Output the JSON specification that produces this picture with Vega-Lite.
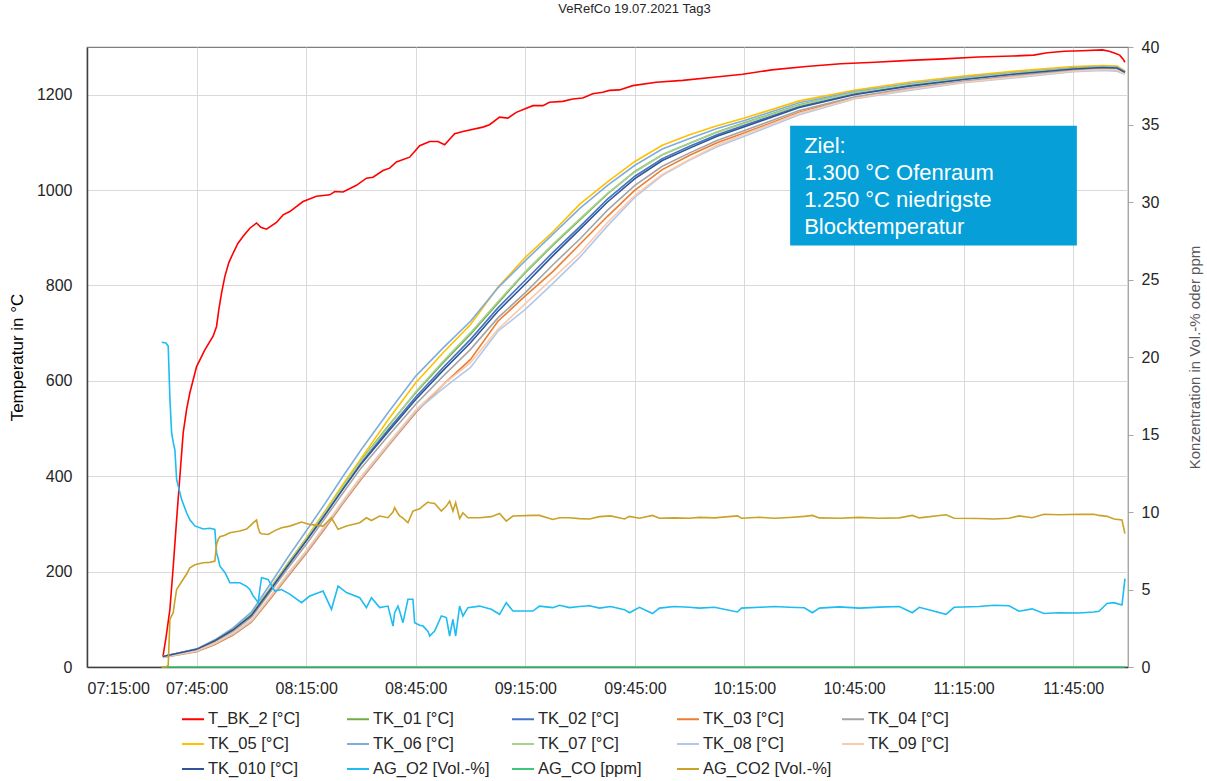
{
"$schema":"https://vega.github.io/schema/vega-lite/v6.json",
"width":1041,"height":620,
"autosize":{"type":"none"},
"padding":{"left":87,"top":47,"right":79,"bottom":114},
"background":"white",
"title":{"text":"VeRefCo 19.07.2021 Tag3","fontSize":13,"font":"Liberation Sans","fontWeight":"normal","color":"#262626","anchor":"middle","frame":"group","offset":23,"dx":27},
"config":{"font":"Liberation Sans","view":{"stroke":"#7F7F7F","strokeWidth":1.2},"axis":{"labelFont":"Liberation Sans","titleFont":"Liberation Sans","labelColor":"#262626","labelFontSize":16}},
"layer":[
{"layer":[
{"data":{"values":[
{"t":"07:35:47","T_BK_2":22},{"t":"07:36:36","T_BK_2":60},{"t":"07:37:42","T_BK_2":121},{"t":"07:38:39","T_BK_2":215},{"t":"07:39:32","T_BK_2":309},{"t":"07:40:26","T_BK_2":400},{"t":"07:41:20","T_BK_2":491},{"t":"07:42:16","T_BK_2":540},{"t":"07:43:10","T_BK_2":575},{"t":"07:45:00","T_BK_2":630},{"t":"07:47:16","T_BK_2":665},{"t":"07:49:33","T_BK_2":694},{"t":"07:50:28","T_BK_2":714},{"t":"07:51:06","T_BK_2":750},{"t":"07:51:50","T_BK_2":784},{"t":"07:52:45","T_BK_2":819},{"t":"07:53:50","T_BK_2":848},{"t":"07:55:01","T_BK_2":868},{"t":"07:56:18","T_BK_2":888},{"t":"07:57:45","T_BK_2":903},{"t":"07:59:35","T_BK_2":920},{"t":"08:01:25","T_BK_2":931},{"t":"08:02:35","T_BK_2":922},{"t":"08:04:09","T_BK_2":918},{"t":"08:06:53","T_BK_2":932},{"t":"08:08:41","T_BK_2":948},{"t":"08:10:31","T_BK_2":955},{"t":"08:14:09","T_BK_2":976},{"t":"08:17:49","T_BK_2":987},{"t":"08:21:28","T_BK_2":990},{"t":"08:22:50","T_BK_2":997},{"t":"08:25:06","T_BK_2":996},{"t":"08:28:46","T_BK_2":1010},{"t":"08:31:30","T_BK_2":1025},{"t":"08:33:18","T_BK_2":1027},{"t":"08:36:02","T_BK_2":1041},{"t":"08:37:52","T_BK_2":1046},{"t":"08:39:42","T_BK_2":1059},{"t":"08:43:20","T_BK_2":1069},{"t":"08:46:05","T_BK_2":1093},{"t":"08:48:49","T_BK_2":1102},{"t":"08:51:05","T_BK_2":1102},{"t":"08:52:55","T_BK_2":1095},{"t":"08:55:39","T_BK_2":1118},{"t":"08:57:55","T_BK_2":1123},{"t":"09:03:23","T_BK_2":1132},{"t":"09:05:13","T_BK_2":1137},{"t":"09:07:57","T_BK_2":1153},{"t":"09:10:14","T_BK_2":1151},{"t":"09:12:31","T_BK_2":1163},{"t":"09:17:04","T_BK_2":1177},{"t":"09:19:48","T_BK_2":1177},{"t":"09:21:38","T_BK_2":1184},{"t":"09:25:16","T_BK_2":1186},{"t":"09:28:00","T_BK_2":1191},{"t":"09:30:44","T_BK_2":1193},{"t":"09:33:28","T_BK_2":1202},{"t":"09:36:13","T_BK_2":1205},{"t":"09:38:02","T_BK_2":1209},{"t":"09:40:47","T_BK_2":1210},{"t":"09:44:25","T_BK_2":1219},{"t":"09:50:49","T_BK_2":1226},{"t":"09:58:05","T_BK_2":1230},{"t":"10:07:13","T_BK_2":1237},{"t":"10:14:30","T_BK_2":1243},{"t":"10:22:27","T_BK_2":1252},{"t":"10:31:54","T_BK_2":1259},{"t":"10:41:20","T_BK_2":1265},{"t":"10:50:46","T_BK_2":1268},{"t":"11:00:10","T_BK_2":1272},{"t":"11:09:37","T_BK_2":1275},{"t":"11:19:03","T_BK_2":1279},{"t":"11:28:29","T_BK_2":1281},{"t":"11:34:09","T_BK_2":1283},{"t":"11:37:55","T_BK_2":1288},{"t":"11:42:37","T_BK_2":1291},{"t":"11:47:21","T_BK_2":1292},{"t":"11:52:59","T_BK_2":1294},{"t":"11:54:52","T_BK_2":1291},{"t":"11:56:26","T_BK_2":1287},{"t":"11:57:43","T_BK_2":1283},{"t":"11:58:37","T_BK_2":1275},{"t":"11:59:10","T_BK_2":1268}
],"format":{"parse":{"t":"utc:'%H:%M:%S'"}}},
"transform":[{"fold":["T_BK_2"],"as":["s","v"]}],
"mark":{"type":"line","strokeWidth":1.6},
"encoding":{
"x":{"field":"t","type":"temporal","scale":{"type":"utc","domain":[{"utc":true,"year":1900,"month":1,"date":1,"hours":7,"minutes":15},{"utc":true,"year":1900,"month":1,"date":1,"hours":12,"minutes":0}]},
"axis":{"title":null,"values":[{"utc":true,"year":1900,"month":1,"date":1,"hours":7,"minutes":15},{"utc":true,"year":1900,"month":1,"date":1,"hours":7,"minutes":45},{"utc":true,"year":1900,"month":1,"date":1,"hours":8,"minutes":15},{"utc":true,"year":1900,"month":1,"date":1,"hours":8,"minutes":45},{"utc":true,"year":1900,"month":1,"date":1,"hours":9,"minutes":15},{"utc":true,"year":1900,"month":1,"date":1,"hours":9,"minutes":45},{"utc":true,"year":1900,"month":1,"date":1,"hours":10,"minutes":15},{"utc":true,"year":1900,"month":1,"date":1,"hours":10,"minutes":45},{"utc":true,"year":1900,"month":1,"date":1,"hours":11,"minutes":15},{"utc":true,"year":1900,"month":1,"date":1,"hours":11,"minutes":45}],
"labelExpr":"utcFormat(datum.value, '%H:%M:%S')","labelFlush":true,"labelOverlap":false,"grid":true,"gridColor":"#D9D9D9","ticks":false,"tickSize":0,"labelPadding":13,"domainColor":"#404040","domainWidth":1.5}},
"y":{"field":"v","type":"quantitative","scale":{"domain":[0,1300],"nice":false},
"axis":{"title":"Temperatur in °C","values":[0,200,400,600,800,1000,1200],"format":"d","grid":true,"gridColor":"#D9D9D9","ticks":false,"tickSize":0,"labelPadding":15,"labelFlush":false,"domainColor":"#404040","domainWidth":1.5,"titleFontSize":17,"titleFontWeight":"normal","titleColor":"#000000","titlePadding":10}},
"color":{"field":"s","type":"nominal","scale":{"domain":["T_BK_2","TK_01","TK_02","TK_03","TK_04","TK_05","TK_06","TK_07","TK_08","TK_09","TK_010","AG_O2","AG_CO","AG_CO2"],"range":["#FF0000","#70AD47","#4472C4","#ED7D31","#A5A5A5","#FFC000","#7EADDD","#A9D18E","#B4C7E7","#F8CBAD","#2F5597","#1EBCF2","#3CC878","#C9A227"]},
"legend":{"orient":"none","direction":"horizontal","legendX":94,"legendY":660,"columns":5,"gridAlign":"all","title":null,"symbolType":"stroke","symbolSize":484,"symbolStrokeWidth":2,"labelFont":"Liberation Sans","labelFontSize":16.5,"labelColor":"#262626","labelOffset":3,"rowPadding":4,"columnPadding":6,"padding":0,"labelLimit":0,
"labelExpr":"datum.label == 'AG_O2' ? 'AG_O2 [Vol.-%]' : datum.label == 'AG_CO' ? 'AG_CO [ppm]' : datum.label == 'AG_CO2' ? 'AG_CO2 [Vol.-%]' : datum.label + ' [°C]'"}}
}},
{"data":{"values":[
{"t":"07:35:47","TK_01":22,"TK_02":22,"TK_03":20,"TK_04":22,"TK_05":22,"TK_06":22,"TK_07":22,"TK_08":20,"TK_09":21,"TK_010":22},
{"t":"07:45:00","TK_01":37,"TK_02":37,"TK_03":32,"TK_04":36,"TK_05":36,"TK_06":38,"TK_07":37,"TK_08":33,"TK_09":34,"TK_010":37},
{"t":"07:50:00","TK_01":55,"TK_02":55,"TK_03":47,"TK_04":53,"TK_05":55,"TK_06":57,"TK_07":55,"TK_08":49,"TK_09":50,"TK_010":55},
{"t":"07:55:00","TK_01":79,"TK_02":78,"TK_03":67,"TK_04":75,"TK_05":78,"TK_06":82,"TK_07":78,"TK_08":69,"TK_09":71,"TK_010":78},
{"t":"08:00:00","TK_01":110,"TK_02":109,"TK_03":94,"TK_04":104,"TK_05":109,"TK_06":115,"TK_07":109,"TK_08":96,"TK_09":98,"TK_010":108},
{"t":"08:05:00","TK_01":163,"TK_02":161,"TK_03":141,"TK_04":155,"TK_05":162,"TK_06":172,"TK_07":162,"TK_08":144,"TK_09":146,"TK_010":160},
{"t":"08:10:00","TK_01":217,"TK_02":215,"TK_03":190,"TK_04":207,"TK_05":217,"TK_06":230,"TK_07":216,"TK_08":193,"TK_09":196,"TK_010":213},
{"t":"08:15:00","TK_01":269,"TK_02":266,"TK_03":238,"TK_04":257,"TK_05":270,"TK_06":285,"TK_07":268,"TK_08":241,"TK_09":244,"TK_010":264},
{"t":"08:20:00","TK_01":323,"TK_02":319,"TK_03":289,"TK_04":310,"TK_05":325,"TK_06":341,"TK_07":322,"TK_08":292,"TK_09":295,"TK_010":317},
{"t":"08:25:00","TK_01":379,"TK_02":375,"TK_03":342,"TK_04":364,"TK_05":382,"TK_06":399,"TK_07":378,"TK_08":345,"TK_09":348,"TK_010":372},
{"t":"08:30:00","TK_01":433,"TK_02":428,"TK_03":393,"TK_04":417,"TK_05":437,"TK_06":455,"TK_07":432,"TK_08":396,"TK_09":399,"TK_010":425},
{"t":"08:37:30","TK_01":506,"TK_02":498,"TK_03":464,"TK_04":485,"TK_05":519,"TK_06":534,"TK_07":504,"TK_08":466,"TK_09":469,"TK_010":494},
{"t":"08:45:00","TK_01":575,"TK_02":566,"TK_03":533,"TK_04":551,"TK_05":596,"TK_06":610,"TK_07":577,"TK_08":536,"TK_09":539,"TK_010":561},
{"t":"08:52:30","TK_01":638,"TK_02":628,"TK_03":592,"TK_04":610,"TK_05":659,"TK_06":669,"TK_07":641,"TK_08":584,"TK_09":592,"TK_010":622},
{"t":"09:00:00","TK_01":698,"TK_02":687,"TK_03":645,"TK_04":666,"TK_05":718,"TK_06":725,"TK_07":701,"TK_08":628,"TK_09":638,"TK_010":680},
{"t":"09:07:30","TK_01":763,"TK_02":753,"TK_03":725,"TK_04":732,"TK_05":796,"TK_06":795,"TK_07":766,"TK_08":704,"TK_09":708,"TK_010":746},
{"t":"09:15:00","TK_01":827,"TK_02":811,"TK_03":778,"TK_04":785,"TK_05":859,"TK_06":852,"TK_07":829,"TK_08":750,"TK_09":762,"TK_010":803},
{"t":"09:22:30","TK_01":884,"TK_02":869,"TK_03":829,"TK_04":843,"TK_05":912,"TK_06":907,"TK_07":886,"TK_08":804,"TK_09":815,"TK_010":862},
{"t":"09:30:00","TK_01":938,"TK_02":924,"TK_03":887,"TK_04":898,"TK_05":971,"TK_06":962,"TK_07":940,"TK_08":860,"TK_09":868,"TK_010":918},
{"t":"09:37:30","TK_01":992,"TK_02":981,"TK_03":945,"TK_04":958,"TK_05":1017,"TK_06":1010,"TK_07":993,"TK_08":925,"TK_09":932,"TK_010":975},
{"t":"09:45:00","TK_01":1039,"TK_02":1029,"TK_03":1000,"TK_04":1010,"TK_05":1060,"TK_06":1052,"TK_07":1038,"TK_08":985,"TK_09":989,"TK_010":1024},
{"t":"09:52:30","TK_01":1074,"TK_02":1066,"TK_03":1043,"TK_04":1050,"TK_05":1094,"TK_06":1086,"TK_07":1074,"TK_08":1031,"TK_09":1033,"TK_010":1062},
{"t":"10:00:00","TK_01":1098,"TK_02":1092,"TK_03":1073,"TK_04":1078,"TK_05":1116,"TK_06":1108,"TK_07":1098,"TK_08":1063,"TK_09":1064,"TK_010":1088},
{"t":"10:07:30","TK_01":1122,"TK_02":1116,"TK_03":1099,"TK_04":1104,"TK_05":1135,"TK_06":1129,"TK_07":1121,"TK_08":1091,"TK_09":1094,"TK_010":1113},
{"t":"10:15:00","TK_01":1141,"TK_02":1136,"TK_03":1120,"TK_04":1125,"TK_05":1151,"TK_06":1146,"TK_07":1140,"TK_08":1113,"TK_09":1117,"TK_010":1133},
{"t":"10:30:00","TK_01":1179,"TK_02":1175,"TK_03":1163,"TK_04":1167,"TK_05":1187,"TK_06":1183,"TK_07":1178,"TK_08":1158,"TK_09":1161,"TK_010":1173},
{"t":"10:45:00","TK_01":1204,"TK_02":1202,"TK_03":1194,"TK_04":1195,"TK_05":1209,"TK_06":1206,"TK_07":1204,"TK_08":1191,"TK_09":1192,"TK_010":1200},
{"t":"11:00:00","TK_01":1221,"TK_02":1219,"TK_03":1212,"TK_04":1214,"TK_05":1226,"TK_06":1223,"TK_07":1221,"TK_08":1209,"TK_09":1211,"TK_010":1218},
{"t":"11:15:00","TK_01":1235,"TK_02":1233,"TK_03":1227,"TK_04":1228,"TK_05":1239,"TK_06":1236,"TK_07":1234,"TK_08":1225,"TK_09":1226,"TK_010":1232},
{"t":"11:30:00","TK_01":1246,"TK_02":1245,"TK_03":1239,"TK_04":1241,"TK_05":1250,"TK_06":1247,"TK_07":1246,"TK_08":1236,"TK_09":1238,"TK_010":1244},
{"t":"11:45:00","TK_01":1256,"TK_02":1255,"TK_03":1250,"TK_04":1251,"TK_05":1259,"TK_06":1256,"TK_07":1255,"TK_08":1248,"TK_09":1249,"TK_010":1254},
{"t":"11:53:00","TK_01":1258,"TK_02":1257,"TK_03":1253,"TK_04":1255,"TK_05":1261,"TK_06":1259,"TK_07":1258,"TK_08":1251,"TK_09":1253,"TK_010":1257},
{"t":"11:57:00","TK_01":1257,"TK_02":1256,"TK_03":1252,"TK_04":1254,"TK_05":1260,"TK_06":1258,"TK_07":1257,"TK_08":1249,"TK_09":1252,"TK_010":1256},
{"t":"11:59:10","TK_01":1248,"TK_02":1247,"TK_03":1244,"TK_04":1245,"TK_05":1250,"TK_06":1248,"TK_07":1247,"TK_08":1243,"TK_09":1244,"TK_010":1247}
],"format":{"parse":{"t":"utc:'%H:%M:%S'"}}},
"transform":[{"fold":["TK_01","TK_02","TK_03","TK_04","TK_05","TK_06","TK_07","TK_08","TK_09","TK_010"],"as":["s","v"]}],
"mark":{"type":"line","strokeWidth":1.6},
"encoding":{
"x":{"field":"t","type":"temporal"},
"y":{"field":"v","type":"quantitative"},
"color":{"field":"s","type":"nominal"}
}},
{"data":{"values":[{}]},
"mark":{"type":"rect","color":"#079FD7"},
"encoding":{
"x":{"datum":{"utc":true,"year":1900,"month":1,"date":1,"hours":10,"minutes":27,"seconds":30},"type":"temporal"},
"x2":{"datum":{"utc":true,"year":1900,"month":1,"date":1,"hours":11,"minutes":46,"seconds":0}},
"y":{"datum":1135,"type":"quantitative"},
"y2":{"datum":884}
}},
{"data":{"values":[{"note":"Ziel:\n1.300 °C Ofenraum\n1.250 °C niedrigste\nBlocktemperatur"}]},
"mark":{"type":"text","align":"left","baseline":"middle","lineBreak":"\n","lineHeight":27,"fontSize":22,"color":"#FFFFFF","font":"Liberation Sans"},
"encoding":{
"x":{"datum":{"utc":true,"year":1900,"month":1,"date":1,"hours":10,"minutes":31,"seconds":20},"type":"temporal"},
"y":{"datum":1093,"type":"quantitative"},
"text":{"field":"note"}
}}
]},
{"data":{"values":[
{"t":"07:35:27","AG_O2":20.95,"AG_CO":0,"AG_CO2":0},
{"t":"07:36:36","AG_O2":20.9,"AG_CO":0,"AG_CO2":0},
{"t":"07:37:14","AG_O2":20.7,"AG_CO":0,"AG_CO2":0.1},
{"t":"07:37:42","AG_O2":17.3,"AG_CO":0,"AG_CO2":3.07},
{"t":"07:38:10","AG_O2":15.1,"AG_CO":0,"AG_CO2":3.3},
{"t":"07:38:36","AG_O2":14.5,"AG_CO":0,"AG_CO2":3.5},
{"t":"07:39:04","AG_O2":14.0,"AG_CO":0,"AG_CO2":4.3},
{"t":"07:39:32","AG_O2":12.1,"AG_CO":0,"AG_CO2":5.0},
{"t":"07:40:54","AG_O2":10.8,"AG_CO":0,"AG_CO2":5.5},
{"t":"07:42:16","AG_O2":9.95,"AG_CO":0,"AG_CO2":6.0},
{"t":"07:43:10","AG_O2":9.5,"AG_CO":0,"AG_CO2":6.4},
{"t":"07:44:32","AG_O2":9.1,"AG_CO":0,"AG_CO2":6.6},
{"t":"07:46:48","AG_O2":8.9,"AG_CO":0,"AG_CO2":6.73},
{"t":"07:48:38","AG_O2":8.95,"AG_CO":0,"AG_CO2":6.75},
{"t":"07:50:00","AG_O2":8.88,"AG_CO":0,"AG_CO2":6.83},
{"t":"07:50:28","AG_O2":7.38,"AG_CO":0,"AG_CO2":7.9},
{"t":"07:50:55","AG_O2":7.0,"AG_CO":0,"AG_CO2":8.23},
{"t":"07:51:23","AG_O2":6.5,"AG_CO":0,"AG_CO2":8.4},
{"t":"07:52:45","AG_O2":6.1,"AG_CO":0,"AG_CO2":8.5},
{"t":"07:54:07","AG_O2":5.44,"AG_CO":0,"AG_CO2":8.66},
{"t":"07:56:51","AG_O2":5.44,"AG_CO":0,"AG_CO2":8.77},
{"t":"07:58:41","AG_O2":5.2,"AG_CO":0,"AG_CO2":8.9},
{"t":"07:59:35","AG_O2":5.0,"AG_CO":0,"AG_CO2":9.09},
{"t":"08:00:29","AG_O2":4.6,"AG_CO":0,"AG_CO2":9.3},
{"t":"08:01:25","AG_O2":4.3,"AG_CO":0,"AG_CO2":9.48},
{"t":"08:01:51","AG_O2":4.15,"AG_CO":0,"AG_CO2":9.0},
{"t":"08:02:19","AG_O2":5.0,"AG_CO":0,"AG_CO2":8.66},
{"t":"08:02:47","AG_O2":5.76,"AG_CO":0,"AG_CO2":8.6},
{"t":"08:04:35","AG_O2":5.65,"AG_CO":0,"AG_CO2":8.55},
{"t":"08:06:25","AG_O2":4.9,"AG_CO":0,"AG_CO2":8.8},
{"t":"08:08:15","AG_O2":5.0,"AG_CO":0,"AG_CO2":8.99},
{"t":"08:10:31","AG_O2":4.7,"AG_CO":0,"AG_CO2":9.09},
{"t":"08:13:43","AG_O2":4.15,"AG_CO":0,"AG_CO2":9.35},
{"t":"08:15:59","AG_O2":4.58,"AG_CO":0,"AG_CO2":9.2},
{"t":"08:19:38","AG_O2":4.9,"AG_CO":0,"AG_CO2":9.09},
{"t":"08:21:56","AG_O2":3.72,"AG_CO":0,"AG_CO2":9.63},
{"t":"08:23:44","AG_O2":5.22,"AG_CO":0,"AG_CO2":8.88},
{"t":"08:26:02","AG_O2":4.8,"AG_CO":0,"AG_CO2":9.1},
{"t":"08:29:40","AG_O2":4.47,"AG_CO":0,"AG_CO2":9.31},
{"t":"08:31:30","AG_O2":3.83,"AG_CO":0,"AG_CO2":9.63},
{"t":"08:32:52","AG_O2":4.47,"AG_CO":0,"AG_CO2":9.45},
{"t":"08:35:08","AG_O2":3.83,"AG_CO":0,"AG_CO2":9.74},
{"t":"08:37:24","AG_O2":3.93,"AG_CO":0,"AG_CO2":9.63},
{"t":"08:38:46","AG_O2":2.64,"AG_CO":0,"AG_CO2":10.0},
{"t":"08:39:14","AG_O2":3.5,"AG_CO":0,"AG_CO2":10.28},
{"t":"08:40:08","AG_O2":3.93,"AG_CO":0,"AG_CO2":9.9},
{"t":"08:40:36","AG_O2":3.6,"AG_CO":0,"AG_CO2":9.74},
{"t":"08:41:30","AG_O2":2.86,"AG_CO":0,"AG_CO2":9.6},
{"t":"08:42:52","AG_O2":4.37,"AG_CO":0,"AG_CO2":9.31},
{"t":"08:44:14","AG_O2":4.37,"AG_CO":0,"AG_CO2":10.06},
{"t":"08:44:42","AG_O2":2.86,"AG_CO":0,"AG_CO2":10.1},
{"t":"08:46:05","AG_O2":2.7,"AG_CO":0,"AG_CO2":10.21},
{"t":"08:47:00","AG_O2":2.64,"AG_CO":0,"AG_CO2":10.4},
{"t":"08:48:22","AG_O2":2.3,"AG_CO":0,"AG_CO2":10.64},
{"t":"08:48:49","AG_O2":2.0,"AG_CO":0,"AG_CO2":10.6},
{"t":"08:50:11","AG_O2":2.32,"AG_CO":0,"AG_CO2":10.55},
{"t":"08:52:01","AG_O2":3.29,"AG_CO":0,"AG_CO2":10.06},
{"t":"08:53:23","AG_O2":3.19,"AG_CO":0,"AG_CO2":10.38},
{"t":"08:54:17","AG_O2":2.0,"AG_CO":0,"AG_CO2":10.7},
{"t":"08:55:11","AG_O2":3.08,"AG_CO":0,"AG_CO2":10.06},
{"t":"08:55:56","AG_O2":2.0,"AG_CO":0,"AG_CO2":10.6},
{"t":"08:57:01","AG_O2":3.93,"AG_CO":0,"AG_CO2":9.57},
{"t":"08:57:55","AG_O2":3.29,"AG_CO":0,"AG_CO2":9.95},
{"t":"08:59:17","AG_O2":3.83,"AG_CO":0,"AG_CO2":9.63},
{"t":"09:02:29","AG_O2":3.93,"AG_CO":0,"AG_CO2":9.63},
{"t":"09:05:41","AG_O2":3.72,"AG_CO":0,"AG_CO2":9.7},
{"t":"09:07:57","AG_O2":3.4,"AG_CO":0,"AG_CO2":9.91},
{"t":"09:09:47","AG_O2":4.15,"AG_CO":0,"AG_CO2":9.41},
{"t":"09:11:37","AG_O2":3.61,"AG_CO":0,"AG_CO2":9.74},
{"t":"09:17:04","AG_O2":3.61,"AG_CO":0,"AG_CO2":9.78},
{"t":"09:18:53","AG_O2":3.93,"AG_CO":0,"AG_CO2":9.78},
{"t":"09:22:32","AG_O2":3.83,"AG_CO":0,"AG_CO2":9.52},
{"t":"09:24:22","AG_O2":3.98,"AG_CO":0,"AG_CO2":9.63},
{"t":"09:27:06","AG_O2":3.83,"AG_CO":0,"AG_CO2":9.63},
{"t":"09:29:50","AG_O2":3.9,"AG_CO":0,"AG_CO2":9.57},
{"t":"09:32:35","AG_O2":3.95,"AG_CO":0,"AG_CO2":9.55},
{"t":"09:35:19","AG_O2":3.8,"AG_CO":0,"AG_CO2":9.7},
{"t":"09:38:20","AG_O2":3.9,"AG_CO":0,"AG_CO2":9.75},
{"t":"09:42:09","AG_O2":3.7,"AG_CO":0,"AG_CO2":9.55},
{"t":"09:43:31","AG_O2":3.5,"AG_CO":0,"AG_CO2":9.72},
{"t":"09:46:15","AG_O2":3.85,"AG_CO":0,"AG_CO2":9.6},
{"t":"09:49:49","AG_O2":3.45,"AG_CO":0,"AG_CO2":9.78},
{"t":"09:51:44","AG_O2":3.8,"AG_CO":0,"AG_CO2":9.6},
{"t":"09:55:50","AG_O2":3.9,"AG_CO":0,"AG_CO2":9.62},
{"t":"09:59:56","AG_O2":3.85,"AG_CO":0,"AG_CO2":9.6},
{"t":"10:02:40","AG_O2":3.8,"AG_CO":0,"AG_CO2":9.65},
{"t":"10:06:46","AG_O2":3.85,"AG_CO":0,"AG_CO2":9.62},
{"t":"10:13:04","AG_O2":3.55,"AG_CO":0,"AG_CO2":9.75},
{"t":"10:14:10","AG_O2":3.8,"AG_CO":0,"AG_CO2":9.6},
{"t":"10:19:05","AG_O2":3.85,"AG_CO":0,"AG_CO2":9.66},
{"t":"10:23:11","AG_O2":3.9,"AG_CO":0,"AG_CO2":9.6},
{"t":"10:27:18","AG_O2":3.85,"AG_CO":0,"AG_CO2":9.65},
{"t":"10:31:24","AG_O2":3.82,"AG_CO":0,"AG_CO2":9.72},
{"t":"10:33:35","AG_O2":3.5,"AG_CO":0,"AG_CO2":9.78},
{"t":"10:35:30","AG_O2":3.8,"AG_CO":0,"AG_CO2":9.62},
{"t":"10:40:58","AG_O2":3.88,"AG_CO":0,"AG_CO2":9.6},
{"t":"10:46:27","AG_O2":3.8,"AG_CO":0,"AG_CO2":9.65},
{"t":"10:51:55","AG_O2":3.86,"AG_CO":0,"AG_CO2":9.6},
{"t":"10:57:23","AG_O2":3.9,"AG_CO":0,"AG_CO2":9.62},
{"t":"11:00:57","AG_O2":3.5,"AG_CO":0,"AG_CO2":9.78},
{"t":"11:02:52","AG_O2":3.85,"AG_CO":0,"AG_CO2":9.62},
{"t":"11:10:10","AG_O2":3.4,"AG_CO":0,"AG_CO2":9.82},
{"t":"11:12:24","AG_O2":3.85,"AG_CO":0,"AG_CO2":9.6},
{"t":"11:19:14","AG_O2":3.9,"AG_CO":0,"AG_CO2":9.58},
{"t":"11:23:20","AG_O2":3.98,"AG_CO":0,"AG_CO2":9.55},
{"t":"11:27:26","AG_O2":3.95,"AG_CO":0,"AG_CO2":9.6},
{"t":"11:30:11","AG_O2":3.6,"AG_CO":0,"AG_CO2":9.75},
{"t":"11:33:44","AG_O2":3.75,"AG_CO":0,"AG_CO2":9.63},
{"t":"11:37:01","AG_O2":3.45,"AG_CO":0,"AG_CO2":9.85},
{"t":"11:41:07","AG_O2":3.5,"AG_CO":0,"AG_CO2":9.82},
{"t":"11:46:36","AG_O2":3.48,"AG_CO":0,"AG_CO2":9.85},
{"t":"11:50:42","AG_O2":3.55,"AG_CO":0,"AG_CO2":9.85},
{"t":"11:52:04","AG_O2":3.6,"AG_CO":0,"AG_CO2":9.78},
{"t":"11:54:15","AG_O2":4.1,"AG_CO":0,"AG_CO2":9.72},
{"t":"11:56:10","AG_O2":4.15,"AG_CO":0,"AG_CO2":9.55},
{"t":"11:58:21","AG_O2":4.0,"AG_CO":0,"AG_CO2":9.48},
{"t":"11:59:10","AG_O2":5.7,"AG_CO":0,"AG_CO2":8.6}
],"format":{"parse":{"t":"utc:'%H:%M:%S'"}}},
"transform":[{"fold":["AG_O2","AG_CO","AG_CO2"],"as":["s","v"]}],
"mark":{"type":"line","strokeWidth":1.6},
"encoding":{
"x":{"field":"t","type":"temporal"},
"y":{"field":"v","type":"quantitative","scale":{"domain":[0,40],"nice":false},
"axis":{"orient":"right","title":"Konzentration in Vol.-% oder ppm","values":[0,5,10,15,20,25,30,35,40],"grid":false,"tickSize":5,"tickColor":"#A6A6A6","domainColor":"#A6A6A6","labelPadding":8,"labelFlush":false,"titleFontSize":15,"titleColor":"#595959","titleFontWeight":"normal","titleAngle":270,"titlePadding":44}},
"color":{"field":"s","type":"nominal"}
}}
],
"resolve":{"scale":{"y":"independent"}}
}
